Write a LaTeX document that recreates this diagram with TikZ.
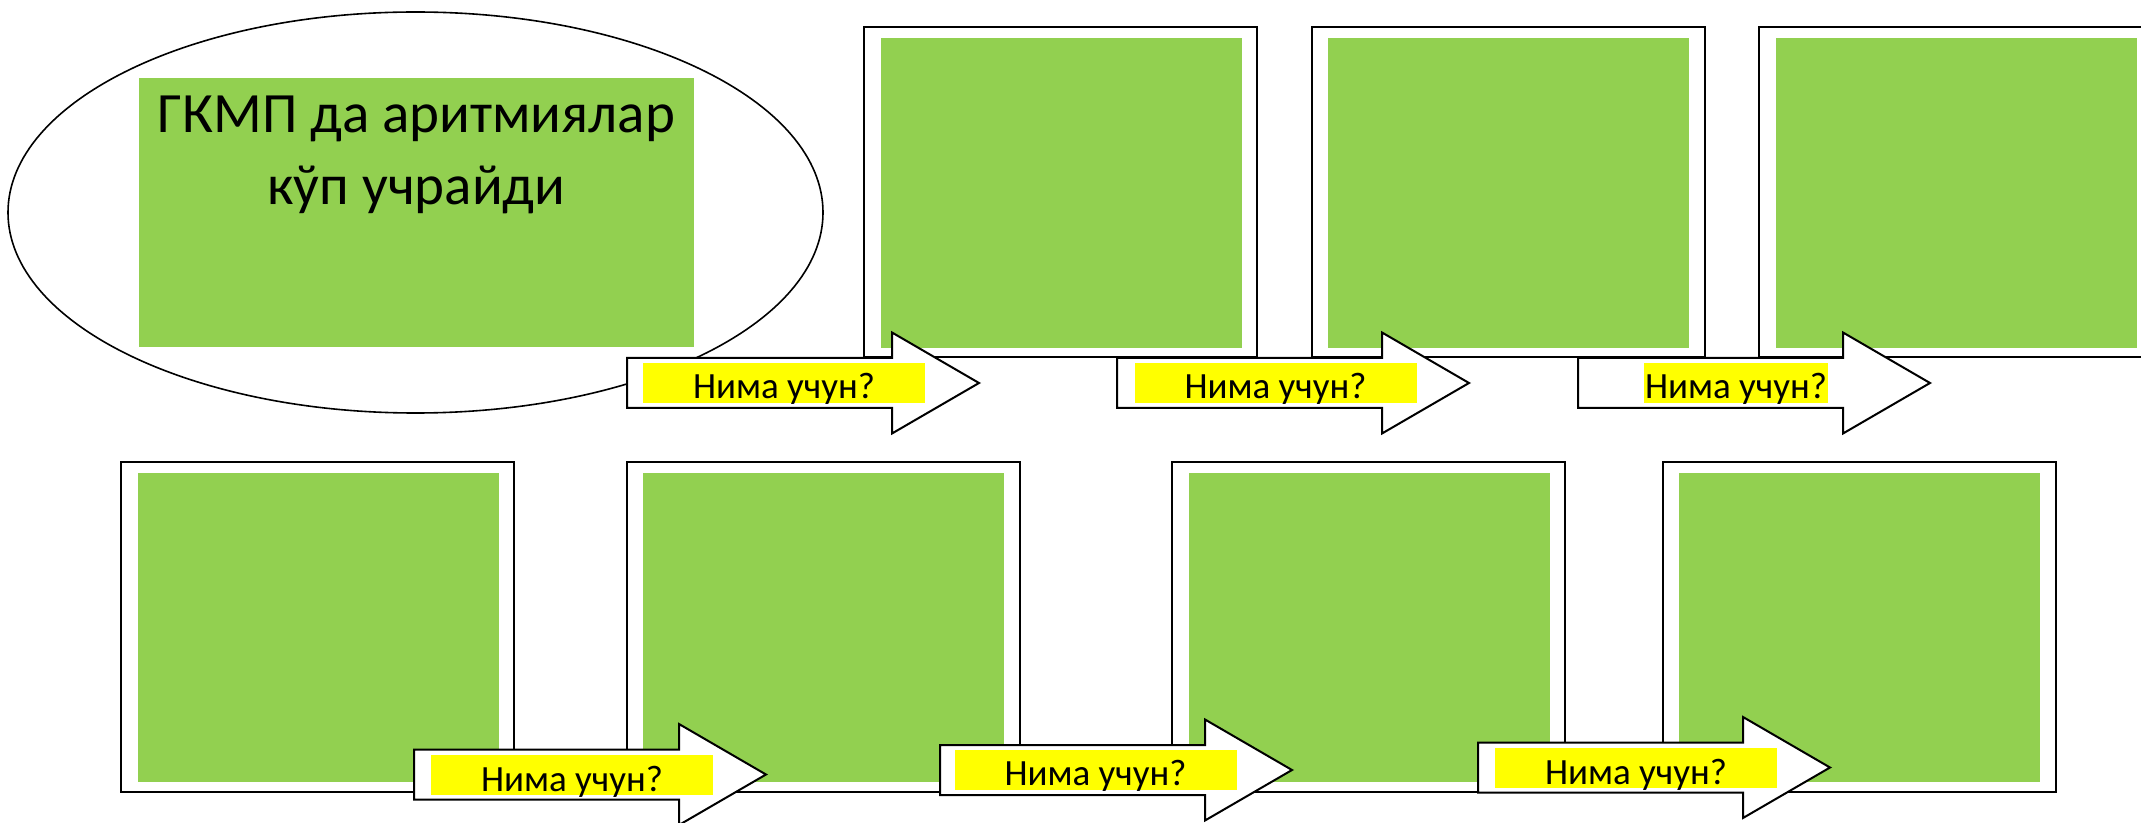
\documentclass[tikz,border=0pt]{standalone}
\usepackage{fontspec}
\setmainfont{Carlito}
\usetikzlibrary{shapes.geometric}
\definecolor{leaf}{HTML}{92D050}
\definecolor{hl}{HTML}{FFFF00}
\tikzset{
  framebox/.style={draw=black, line width=1pt, fill=white, inner sep=0pt, outer sep=0pt,
    minimum width=196.5pt, minimum height=165pt, anchor=north west},
  greenbox/.style={fill=leaf, inner sep=0pt, outer sep=0pt,
    minimum width=180.5pt, minimum height=155pt, anchor=north west},
  arrowline/.style={draw=black, fill=white, line width=1pt, line join=miter},
  whylabel/.style={fill=hl, inner sep=0pt, minimum width=141pt, minimum height=20pt,
    text height=16pt, text depth=0pt, font=\fontsize{18.5}{22}\selectfont},
  whyarrow/.pic={\draw[arrowline] (0,-25) -- (265,-25) -- (265,-50.5) -- (352,0) -- (265,50.5) -- (265,25) -- (0,25) -- cycle;}
}
\begin{document}
\begin{tikzpicture}[x=0.5pt, y=-0.5pt]
\clip (0,0) rectangle (2141,823);
\fill[white] (0,0) rectangle (2141,823);
% ellipse with heading
\node[draw=black, line width=0.8pt, ellipse, inner sep=0pt, minimum width=407.5pt, minimum height=200.5pt] (ell) at (415.5,212.5) {};
\node[fill=leaf, inner sep=0pt, minimum width=277.5pt, minimum height=134.5pt, anchor=north west] (head) at (139,78) {};
\node[anchor=base, align=center, font=\fontsize{28.5}{36}\selectfont, inner sep=0pt] (headtxt) at (416.5,205) {ГКМП да аритмиялар\\кўп учрайди};
% top row
\node[framebox] (f1) at (864,27) {};
\node[greenbox] (g1) at (881,38) {};
\node[framebox] (f2) at (1312,27) {};
\node[greenbox] (g2) at (1328,38) {};
\node[framebox] (f3) at (1759,27) {};
\node[greenbox] (g3) at (1776,38) {};
% bottom row
\node[framebox] (fa) at (121,462) {};
\node[greenbox, minimum height=154.5pt] (ga) at (138,473) {};
\node[framebox] (fb) at (627,462) {};
\node[greenbox, minimum height=154.5pt] (gb) at (643,473) {};
\node[framebox] (fc) at (1172,462) {};
\node[greenbox, minimum height=154.5pt] (gc) at (1189,473) {};
\node[framebox] (fd) at (1663,462) {};
\node[greenbox, minimum height=154.5pt] (gd) at (1679,473) {};
% arrows
\pic (a1) at (627,383) {whyarrow};
\pic (a2) at (1117,383) {whyarrow};
\pic (a3) at (1578,383) {whyarrow};
\pic (aa) at (414,774.5) {whyarrow};
\pic (ab) at (940,770) {whyarrow};
\pic (ac) at (1478,767.5) {whyarrow};
% labels
\node[whylabel] (l1) at (784,383) {Нима учун?};
\node[whylabel] (l2) at (1275.5,383) {Нима учун?};
\node[whylabel, minimum width=92pt] (l3) at (1736,383) {Нима учун?};
\node[whylabel] (la) at (572,775) {Нима учун?};
\node[whylabel] (lb) at (1095.5,769.5) {Нима учун?};
\node[whylabel] (lc) at (1636,768) {Нима учун?};
\end{tikzpicture}
\end{document}
